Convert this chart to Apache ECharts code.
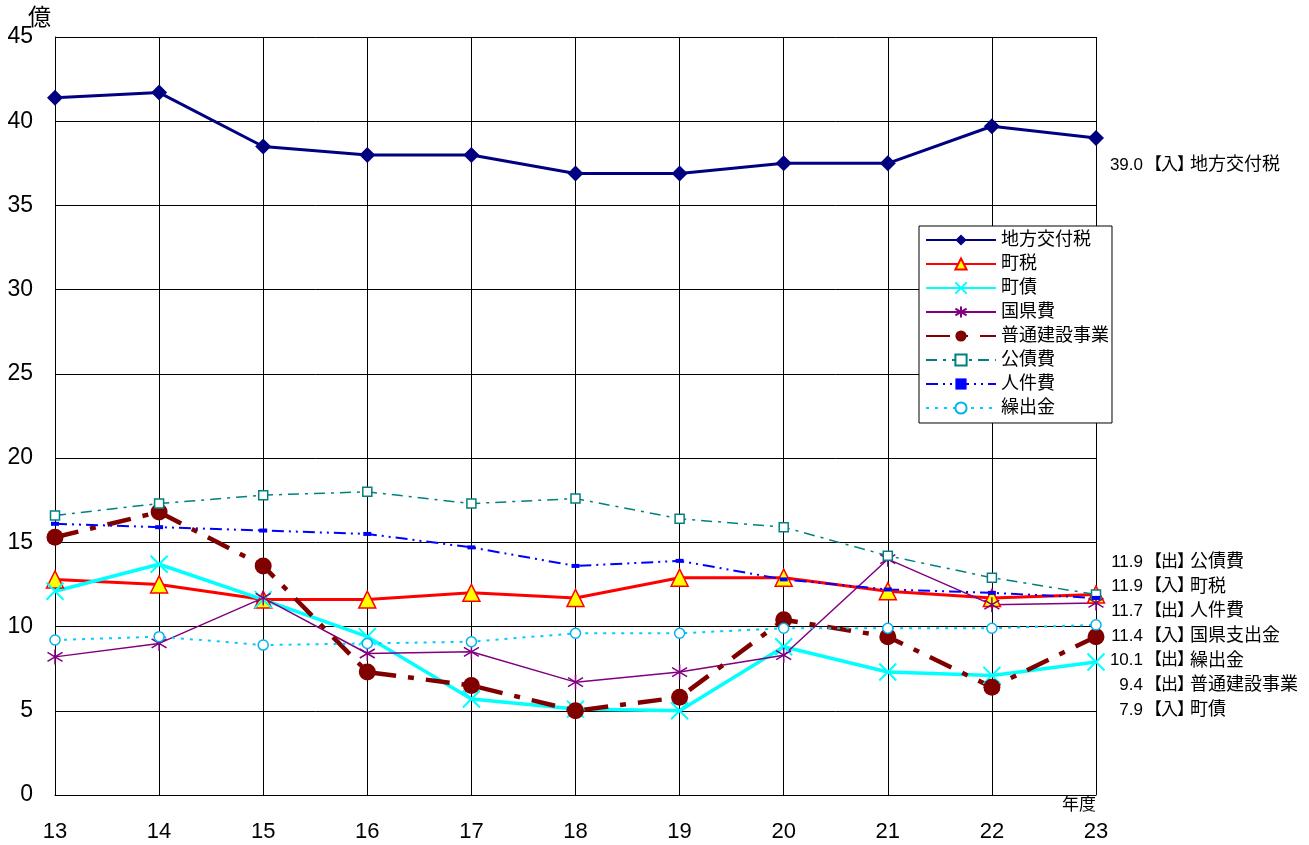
<!DOCTYPE html>
<html>
<head>
<meta charset="utf-8">
<script src="https://cdn.jsdelivr.net/npm/echarts@6/dist/echarts.min.js"></script>
<style>
  html, body { margin: 0; padding: 0; background: #fff; }
  #chart { width: 1309px; height: 845px; }
</style>
</head>
<body>
<div id="chart"></div>
<script>
// 年度 (fiscal years)
const years = ['13', '14', '15', '16', '17', '18', '19', '20', '21', '22', '23'];
const yTicks = [0, 5, 10, 15, 20, 25, 30, 35, 40, 45];

// 単位: 億円
const chihouKoufuzei = [41.4, 41.7, 38.5, 38.0, 38.0, 36.9, 36.9, 37.5, 37.5, 39.7, 39.0];
const chouzei        = [12.8, 12.5, 11.6, 11.6, 12.0, 11.7, 12.9, 12.9, 12.1, 11.7, 11.9];
const chousai        = [12.1, 13.7, 11.6,  9.4,  5.7,  5.1,  5.0,  8.8,  7.3,  7.1,  7.9];
const kokukenhi      = [ 8.2,  9.0, 11.7,  8.4,  8.5,  6.7,  7.3,  8.3, 14.0, 11.3, 11.4];
const futsuKensetsu  = [15.3, 16.8, 13.6,  7.3,  6.5,  5.0,  5.8, 10.4,  9.4,  6.4,  9.4];
const kousaihi       = [16.6, 17.3, 17.8, 18.0, 17.3, 17.6, 16.4, 15.9, 14.2, 12.9, 11.9];
const jinkenhi       = [16.1, 15.9, 15.7, 15.5, 14.7, 13.6, 13.9, 12.8, 12.2, 12.0, 11.7];
const kuridashikin   = [ 9.2,  9.4,  8.9,  9.0,  9.1,  9.6,  9.6,  9.9,  9.9,  9.9, 10.1];

// 右側の注記 (最新年度の値): 区分 (入=歳入, 出=歳出) と項目名
const endNotes = [
  { kind: '入', name: '地方交付税', values: chihouKoufuzei },
  { kind: '出', name: '公債費', values: kousaihi },
  { kind: '入', name: '町税', values: chouzei },
  { kind: '出', name: '人件費', values: jinkenhi },
  { kind: '入', name: '国県支出金', values: kokukenhi },
  { kind: '出', name: '繰出金', values: kuridashikin },
  { kind: '出', name: '普通建設事業', values: futsuKensetsu },
  { kind: '入', name: '町債', values: chousai }
];

const FONT = "'Liberation Sans', 'Noto Sans CJK JP', sans-serif";
const crossPath = 'path://M0,0L10,10M10,0L0,10';
const asteriskPath = 'path://M5,0L5,10M0,2L10,8M0,8L10,2';

const chart = echarts.init(document.getElementById('chart'), null, { renderer: 'canvas' });

const series = [
  {
    name: '地方交付税', data: chihouKoufuzei,
    lineStyle: { color: '#000080', width: 3 },
    symbol: 'diamond', symbolSize: 16,
    itemStyle: { color: '#000080' }
  },
  {
    name: '町税', data: chouzei,
    lineStyle: { color: '#FF0000', width: 3 },
    symbol: 'triangle', symbolSize: 17,
    itemStyle: { color: '#FFFF00', borderColor: '#FF0000', borderWidth: 1.5 }
  },
  {
    name: '町債', data: chousai,
    lineStyle: { color: '#00FFFF', width: 3.5 },
    symbol: crossPath, symbolSize: 17,
    itemStyle: { color: 'rgba(0,0,0,0)', borderColor: '#00FFFF', borderWidth: 2 }
  },
  {
    name: '国県費', data: kokukenhi,
    lineStyle: { color: '#800080', width: 1.5 },
    symbol: asteriskPath, symbolSize: 15,
    itemStyle: { color: 'rgba(0,0,0,0)', borderColor: '#800080', borderWidth: 1.5 }
  },
  {
    name: '普通建設事業', data: futsuKensetsu,
    lineStyle: { color: '#800000', width: 4.5, type: [24, 12, 6, 12] },
    symbol: 'circle', symbolSize: 17,
    itemStyle: { color: '#800000' }
  },
  {
    name: '公債費', data: kousaihi,
    lineStyle: { color: '#008080', width: 1.5, type: [11, 6, 3, 6] },
    symbol: 'rect', symbolSize: 9,
    itemStyle: { color: '#ffffff', borderColor: '#008080', borderWidth: 1.5 }
  },
  {
    name: '人件費', data: jinkenhi,
    lineStyle: { color: '#0000FF', width: 2, type: [12, 5, 2, 5, 2, 5] },
    symbol: 'rect', symbolSize: [8, 4],
    itemStyle: { color: '#0000FF' }
  },
  {
    name: '繰出金', data: kuridashikin,
    lineStyle: { color: '#00CCFF', width: 2, type: [3, 6] },
    symbol: 'circle', symbolSize: 10,
    itemStyle: { color: '#ffffff', borderColor: '#00B4F0', borderWidth: 1.5 }
  }
].map(s => Object.assign({ type: 'line', showAllSymbol: true, animation: false }, s));

// 注記テキスト
const graphics = [
  { type: 'text', left: 28, top: 7, style: { text: '億', font: '23px ' + FONT, fill: '#000' } },
  { type: 'text', left: 1062, top: 797, style: { text: '年度', font: '17px ' + FONT, fill: '#000' } }
];
const noteRows = [165, 562, 586.7, 611.4, 636.1, 660.8, 685.5, 710.2];
function noteText(x, y, text, size, align) {
  return {
    type: 'text', x: x, y: y,
    style: { text: text, font: size + 'px ' + FONT, fill: '#000', align: align, verticalAlign: 'middle' }
  };
}
endNotes.forEach((n, i) => {
  const y = noteRows[i];
  const v = n.values[n.values.length - 1].toFixed(1);
  graphics.push(noteText(1143, y, v, 17, 'right'));
  graphics.push(noteText(1145, y, '【', 17, 'left'));
  graphics.push(noteText(1161, y, n.kind, 17, 'left'));
  graphics.push(noteText(1177, y, '】', 17, 'left'));
  graphics.push(noteText(1190, y, n.name, 18, 'left'));
});

chart.setOption({
  animation: false,
  backgroundColor: '#ffffff',
  textStyle: { fontFamily: FONT },
  grid: { left: 55, right: 213, top: 37, bottom: 50, containLabel: false },
  legend: {
    orient: 'vertical',
    left: 919, top: 226,
    padding: [5, 3, 6, 6],
    itemGap: 6,
    itemWidth: 70, itemHeight: 14,
    backgroundColor: '#ffffff',
    borderColor: '#000000', borderWidth: 1,
    textStyle: { fontSize: 18, color: '#000', fontFamily: FONT },
    data: series.map(s => s.name)
  },
  xAxis: {
    type: 'category',
    data: years,
    boundaryGap: false,
    axisLine: { show: true, lineStyle: { color: '#000', width: 1 } },
    axisTick: { show: false },
    axisLabel: { fontSize: 22, color: '#000', margin: 26, fontFamily: FONT },
    splitLine: { show: true, lineStyle: { color: '#000', width: 1 } }
  },
  yAxis: {
    type: 'value',
    min: yTicks[0], max: yTicks[yTicks.length - 1], interval: yTicks[1] - yTicks[0],
    axisLine: { show: true, lineStyle: { color: '#000', width: 1 } },
    axisTick: { show: false },
    axisLabel: { fontSize: 23, color: '#000', margin: 22, fontFamily: FONT, padding: [10, 0, 0, 0] },
    splitLine: { show: true, lineStyle: { color: '#000', width: 1 } }
  },
  series: series,
  graphic: graphics
});
</script>
</body>
</html>
